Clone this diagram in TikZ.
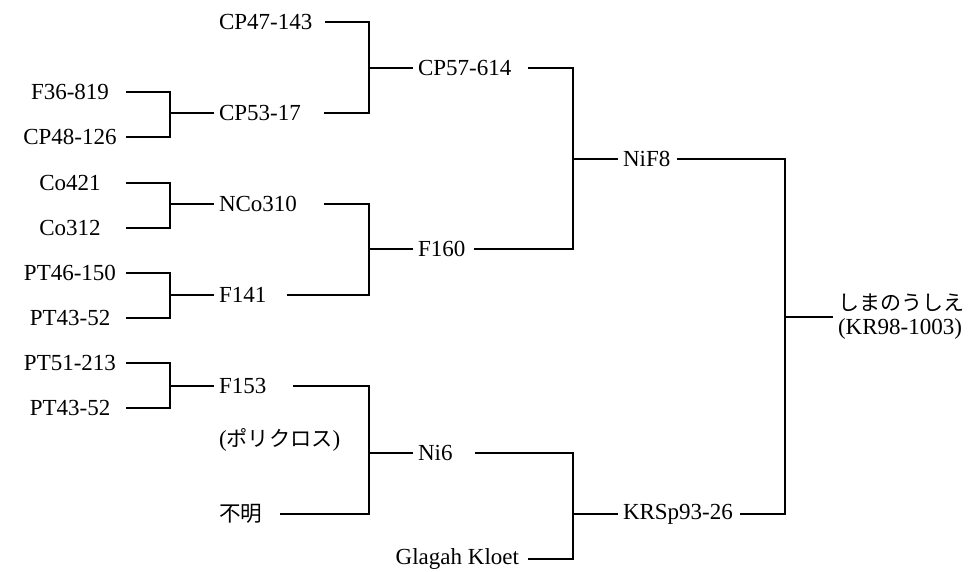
\documentclass[tikz,border=0pt]{standalone}
\usepackage{fontspec}
\setmainfont{Liberation Serif}
\newfontfamily\jp{Noto Sans CJK JP}
\usetikzlibrary{calc}

\begin{document}
\begin{tikzpicture}[x=0.5pt,y=-0.5pt,line width=1pt,
  cv/.style={draw=none,fill=none,inner sep=2pt,anchor=west,font=\fontsize{11.5}{12}\selectfont},
  leaf/.style={cv,anchor=center,minimum width=55pt}]
  \useasboundingbox (0,0) rectangle (968,572);

  % Junction columns
  \coordinate (j1) at (170,0);
  \coordinate (j2) at (369,0);
  \coordinate (j3) at (573,0);
  \coordinate (j4) at (785,0);

  % First generation
  \node[leaf] (f36) at (70,92) {F36-819};
  \node[leaf] (cp48) at (70,137) {CP48-126};
  \node[leaf] (co421) at (70,183) {Co421};
  \node[leaf] (co312) at (70,228) {Co312};
  \node[leaf] (pt46) at (70,273) {PT46-150};
  \node[leaf] (pt43a) at (70,318) {PT43-52};
  \node[leaf] (pt51) at (70,363) {PT51-213};
  \node[leaf] (pt43b) at (70,408) {PT43-52};

  % Second generation
  \node[cv] (cp47) at (214,22) {CP47-143};
  \node[cv] (cp53) at (214,113) {CP53-17};
  \node[cv] (nco310) at (214,204) {NCo310};
  \node[cv] (f141) at (214,295) {F141};
  \node[cv] (f153) at (214,386) {F153};
  \node[cv] (poly) at (214,440) {({\jp\fontsize{10.6}{12}\selectfont ポリクロス})};
  \node[cv] (fumei) at (214,514) {{\jp\fontsize{10.8}{12}\selectfont 不明}};
  \node[cv,anchor=east] (glagah) at (524,559) {Glagah Kloet};

  % Third generation
  \node[cv] (cp57) at (413,68) {CP57-614};
  \node[cv] (f160) at (413,249) {F160};
  \node[cv] (ni6) at (413,453) {Ni6};

  % Fourth generation
  \node[cv] (nif8) at (618,159) {NiF8};
  \node[cv] (krsp) at (618,514) {KRSp93-26};

  % Offspring
  \node[cv,align=left] (root) at (833,317) {{\jp\fontsize{10.5}{12}\selectfont しまのうしえ}\\(KR98-1003)};

  % Crosses into the second generation
  \draw (f36.east) -- (f36 -| j1) |- (cp53.west);
  \draw (cp48.east) -- (cp48 -| j1) |- (cp53.west);
  \draw (co421.east) -- (co421 -| j1) |- (nco310.west);
  \draw (co312.east) -- (co312 -| j1) |- (nco310.west);
  \draw (pt46.east) -- (pt46 -| j1) |- (f141.west);
  \draw (pt43a.east) -- (pt43a -| j1) |- (f141.west);
  \draw (pt51.east) -- (pt51 -| j1) |- (f153.west);
  \draw (pt43b.east) -- (pt43b -| j1) |- (f153.west);

  % Crosses into the third generation
  \draw ($(cp47.east)+(8,0)$) -- (cp47 -| j2) |- (cp57.west);
  \draw ($(cp53.east)+(18,0)$) -- (cp53 -| j2) |- (cp57.west);
  \draw ($(nco310.east)+(22,0)$) -- (nco310 -| j2) |- (f160.west);
  \draw ($(f141.east)+(16,0)$) -- (f141 -| j2) |- (f160.west);
  \draw ($(f153.east)+(22,0)$) -- (f153 -| j2) |- (ni6.west);
  \draw ($(fumei.east)+(13,0)$) -- (fumei -| j2) |- (ni6.west);

  % Crosses into the fourth generation
  \draw ($(cp57.east)+(12,0)$) -- (cp57 -| j3) |- (nif8.west);
  \draw ($(f160.east)+(4,0)$) -- (f160 -| j3) |- (nif8.west);
  \draw ($(ni6.east)+(17,0)$) -- (ni6 -| j3) |- (krsp.west);
  \draw ($(glagah.east)+(4,0)$) -- (glagah -| j3) |- (krsp.west);

  % Last cross
  \draw ($(nif8.east)+(2,0)$) -- (nif8 -| j4) |- (root.west);
  \draw ($(krsp.east)+(2,0)$) -- (krsp -| j4) |- (root.west);
\end{tikzpicture}
\end{document}
